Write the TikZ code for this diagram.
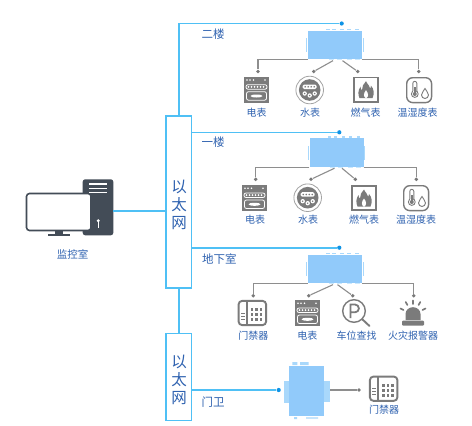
\documentclass[tikz,border=0pt]{standalone}
\usepackage{fontspec}
\setmainfont{Noto Sans CJK SC}
\definecolor{lblue}{HTML}{4FC0F5}
\definecolor{dotblue}{HTML}{0E93E6}
\definecolor{devblue}{HTML}{91CAFA}
\definecolor{tickblue}{HTML}{A9D8FB}
\definecolor{txtblue}{HTML}{2F62B0}
\definecolor{ico}{HTML}{7B7B7B}
\definecolor{conn}{HTML}{8E8E8E}
\definecolor{pc}{HTML}{434C57}
\tikzset{
 x=1pt,y=-1pt,
 link/.style={draw=lblue,line width=1.6pt},
 bus/.style={draw=lblue,line width=1.5pt,fill=white,minimum width=25.5pt,inner sep=0pt},
 devbox/.style={fill=devblue,inner sep=0pt,minimum width=54pt,minimum height=28.5pt},
 gate/.style={fill=devblue,inner sep=0pt,minimum width=34.7pt,minimum height=50pt},
 tick/.style={fill=tickblue,draw=none},
 tickfaint/.style={fill=tickblue!60,draw=none},
 jdot/.style={circle,fill=dotblue,inner sep=0pt,minimum size=4.2pt},
 gdot/.style={circle,fill=conn!85!black,inner sep=0pt,minimum size=3.8pt},
 gline/.style={draw=conn,line width=1.1pt},
 lbl/.style={text=txtblue,font=\fontsize{10}{12}\selectfont,inner sep=0pt},
 flr/.style={text=txtblue,font=\fontsize{11.5}{13}\selectfont,inner sep=0pt},
 bustxt/.style={text=txtblue,font=\fontsize{15.5}{18}\selectfont,inner sep=0pt},
}
\newcommand{\devticks}[2]{\begin{scope}[shift={(#1,#2)}]
 \foreach \a in {-7,-1,7,14,22}{\fill[tick] (\a-1.8,-16.4) rectangle (\a+1.8,-14.9);}
 \foreach \a in {-4,4,14,22}{\fill[tickfaint] (\a-2.5,14.3) rectangle (\a+2.5,15.4);}
 \fill[tick] (-28.8,-7) rectangle (-27.6,7);
 \fill[tick] (27.6,-7) rectangle (28.8,7);
\end{scope}}
\newcommand{\icMeter}[2]{\begin{scope}[shift={(#1,#2)}]
 \fill[ico] (0,0) rectangle (25,26);
 \foreach \a in {3,6,9.5,21}{\fill[white] (\a,3.2) circle (0.9);}
 \draw[white,line width=0.8pt,rounded corners=2pt] (2,8) rectangle (23,12.5);
 \foreach \a in {4.5,7.5,10.5,13.5,16.5,19.5}{\fill[white] (\a,10.2) circle (1);}
 \draw[white,line width=0.8pt,rounded corners=2pt] (2.5,15) rectangle (22.5,23.5);
 \fill[white] (12.5,19.3) ellipse (6 and 1.5);
\end{scope}}
\newcommand{\icWater}[2]{\begin{scope}[shift={(#1,#2)}]
 \draw[ico!70,line width=0.8pt] (0,0) circle (13.8);
 \fill[ico] (0,0) circle (10.8);
 \fill[white,rounded corners=1.5pt] (-7,-5.5) rectangle (7,-1);
 \foreach \a in {-4.5,-1.5,1.5,4.5}{\fill[ico] (\a,-3.2) circle (0.9);}
 \fill[white] (-5,3.5) circle (2.2) (0,5.5) circle (2.2) (5,3.5) circle (2.2);
 \fill[ico] (-5,3.5) circle (0.8) (0,5.5) circle (0.8) (5,3.5) circle (0.8);
\end{scope}}
\newcommand{\icFlame}[2]{\begin{scope}[shift={(#1,#2)}]
 \draw[ico,line width=1.7pt] (0.8,0.8) rectangle (25,25.2);
 \fill[ico] (13,4.5) .. controls (14.5,8) and (17,9) .. (17.3,12) .. controls (18,11) and (18,10) .. (18,9)
  .. controls (21,12) and (21.5,17) .. (19.5,21.5) -- (6.5,21.5) .. controls (4.8,18) and (5,13.5) .. (7.5,10)
  .. controls (7.6,12) and (8,13) .. (9,13.5) .. controls (8.8,10) and (10.5,7) .. (13,4.5) -- cycle;
 \fill[white] (13,21.8) .. controls (10,20) and (10.5,16.5) .. (13,13.5) .. controls (15.5,16.5) and (16,20) .. (13,21.8) -- cycle;
\end{scope}}
\newcommand{\icThermo}[2]{\begin{scope}[shift={(#1,#2)}]
 \draw[ico,line width=1.4pt,rounded corners=6pt] (0.7,0.7) rectangle (25.6,25.6);
 \draw[ico,line width=0.9pt] (8.8,17) circle (3.4);
 \fill[white] (7.2,13) rectangle (10.4,15);
 \draw[ico,line width=0.9pt] (6.8,14.2) -- (6.8,6.3) arc (180:360:2) -- (10.8,14.2);
 \fill[ico] (8.8,17) circle (2);
 \fill[ico] (8.1,10) rectangle (9.5,16);
 \draw[ico,line width=0.9pt] (19,11.5) .. controls (20,14) and (22.5,15.5) .. (22.5,18) arc (0:180:3.5) .. controls (15.5,15.5) and (18,14) .. (19,11.5) -- cycle;
\end{scope}}
\newcommand{\icDoor}[2]{\begin{scope}[shift={(#1,#2)}]
 \draw[ico,line width=1.9pt,rounded corners=3.5pt] (0.9,0.9) rectangle (28.4,25.1);
 \fill[ico] (8.4,1) rectangle (10,25);
 \foreach \b in {12.5,15.5,18.5}{\fill[ico] (3.2,\b) rectangle (7,\b+1.1);}
 \foreach \a in {13,17.5,22}\foreach \b in {8,13,18}{\fill[ico] (\a,\b) rectangle (\a+2.6,\b+2.8);}
\end{scope}}
\newcommand{\icPark}[2]{\begin{scope}[shift={(#1,#2)}]
 \draw[ico,line width=1.4pt] (0,0) circle (11.3);
 \draw[ico,line width=1.9pt,line cap=round] (8.2,8.2) -- (15.5,15);
 \draw[ico,line width=1.8pt] (-3.5,7) -- (-3.5,-6.5) -- (1,-6.5) arc (-90:90:3.9) -- (-3.5,1.3);
\end{scope}}
\newcommand{\icAlarm}[2]{\begin{scope}[shift={(#1,#2)}]
 \fill[ico] (-7.5,20) -- (-7.5,14) arc (180:360:7.5 and 6.8) -- (7.5,20) -- cycle;
 \fill[ico,rounded corners=1pt] (-11,20.5) rectangle (11,25.5);
 \draw[ico,line width=1.7pt,line cap=round] (0,0.5) -- (0,4);
 \draw[ico,line width=1.7pt,line cap=round] (-7.3,2) -- (-5.6,5);
 \draw[ico,line width=1.7pt,line cap=round] (7.3,2) -- (5.6,5);
 \draw[ico,line width=1.7pt,line cap=round] (-12.5,8.5) -- (-9.5,10);
 \draw[ico,line width=1.7pt,line cap=round] (12.5,8.5) -- (9.5,10);
\end{scope}}
\begin{document}
\begin{tikzpicture}
\useasboundingbox[fill=white] (0,0) rectangle (472,426);
% buses
\node[bus,minimum height=172pt] (bus1) at (178.9,202) {};
\node[bus,minimum height=87pt] (bus2) at (178.9,377.2) {};
\draw[link] (bus1) -- (bus2);
\node[bustxt] (t1a) at (179,187) {以};
\node[bustxt] (t1b) at (179,205) {太};
\node[bustxt] (t1c) at (179,223) {网};
\node[bustxt] (t2a) at (179,361.7) {以};
\node[bustxt] (t2b) at (179,380) {太};
\node[bustxt] (t2c) at (179,398) {网};
% PC
\fill[pc,rounded corners=2.5pt] (82.7,179.3) rectangle (113.3,235.3);
\foreach \b in {184,188.3,192.3}{\fill[white] (89.3,\b-0.7) rectangle (107.3,\b+0.7);}
\fill[white] (98.3,220.7) circle (1.6);
\fill[white] (97.7,221) rectangle (98.9,228.3);
\fill[pc] (55,231) rectangle (63,234);
\fill[pc] (47.7,234) rectangle (70,235.6);
\draw[pc,fill=white,line width=1.6pt,rounded corners=3pt] (26.5,193.5) rectangle (91,230.5);
\coordinate (pcport) at (113.3,210.7);
\draw[link] (pcport) -- (pcport -| bus1.west);
\node[lbl,font=\fontsize{10.5}{12}\selectfont] (pcl) at (72.7,254) {监控室};
% floor 2
\node[jdot] (j1) at (341.7,23.5) {};
\draw[link] (bus1.north) |- (j1);
\node[flr] at (213,34) {二楼};
\node[devbox] (d1) at (335,45) {};
\devticks{335}{45}
\node[gdot] (p1a) at (258,71.5) {};
\node[gdot] (p1b) at (313.7,71.5) {};
\node[gdot] (p1c) at (357.7,71.5) {};
\node[gdot] (p1d) at (418.7,71.5) {};
\draw[gline] (d1.south west) -| (p1a);
\draw[gline] ([xshift=-2pt,yshift=-1.2pt]d1.south) -- (p1b);
\draw[gline] ([xshift=7.5pt,yshift=-1.2pt]d1.south) -- (p1c);
\draw[gline] (d1.south east) -| (p1d);
\icMeter{244}{76.7}
\icWater{309.7}{90}
\icFlame{353}{76.7}
\icThermo{406}{77}
\node[lbl] at (256.7,113) {电表};
\node[lbl] at (310,113) {水表};
\node[lbl] at (365.7,113) {燃气表};
\node[lbl] at (417.7,113) {温湿度表};
% floor 1
\coordinate (b1) at (bus1.east |- 0,132.3);
\node[jdot] (j2) at (339.3,132.3) {};
\draw[link] (b1) -- (j2);
\node[flr] at (213,142.3) {一楼};
\node[devbox] (d2) at (336.5,152.6) {};
\devticks{336.5}{152.6}
\node[gdot] (p2a) at (255.7,179.3) {};
\node[gdot] (p2b) at (311,179.3) {};
\node[gdot] (p2c) at (355.3,179.3) {};
\node[gdot] (p2d) at (416.3,179.3) {};
\draw[gline] (d2.south west) -| (p2a);
\draw[gline] ([xshift=-2pt,yshift=-1.2pt]d2.south) -- (p2b);
\draw[gline] ([xshift=5.5pt,yshift=-1.2pt]d2.south) -- (p2c);
\draw[gline] (d2.south east) -| (p2d);
\icMeter{242}{185}
\icWater{307.7}{197.7}
\icFlame{351}{185}
\icThermo{403}{185}
\node[lbl] at (255,219.7) {电表};
\node[lbl] at (308,219.7) {水表};
\node[lbl] at (364,219.7) {燃气表};
\node[lbl] at (416,219.7) {温湿度表};
% basement
\coordinate (b2) at (bus1.east |- 0,247.7);
\node[jdot] (j3) at (339.3,247.7) {};
\draw[link] (b2) -- (j3);
\node[flr] at (219.3,259.3) {地下室};
\node[devbox] (d3) at (335,269) {};
\devticks{335}{269}
\node[gdot] (p3a) at (253.3,295.7) {};
\node[gdot] (p3b) at (308.7,295.7) {};
\node[gdot] (p3c) at (352.7,295.7) {};
\node[gdot] (p3d) at (413.7,295.7) {};
\draw[gline] (d3.south west) -| (p3a);
\draw[gline] ([xshift=-2pt,yshift=-1.2pt]d3.south) -- (p3b);
\draw[gline] ([xshift=2.5pt,yshift=-1.2pt]d3.south) -- (p3c);
\draw[gline] (d3.south east) -| (p3d);
\icDoor{237.7}{300}
\icMeter{295}{300}
\icPark{354}{311}
\icAlarm{413}{300}
\node[lbl] at (253.3,336) {门禁器};
\node[lbl] at (307.3,336) {电表};
\node[lbl] at (356.7,336) {车位查找};
\node[lbl] at (413,336) {火灾报警器};
% gate
\coordinate (b3) at (bus2.east |- 0,390);
\node[jdot] (j4) at (278.7,390) {};
\draw[link] (b3) -- (j4);
\node[flr] at (213,401.7) {门卫};
\node[gate] (d4) at (306.7,391) {};
\fill[tick] (292.3,362) rectangle (297.3,365) (300,362) rectangle (308.7,365);
\fill[tick] (284.3,381) rectangle (289.3,402.7);
\fill[tick] (324.3,381) rectangle (330.3,402);
\fill[tick] (294,417) rectangle (297,419) (306,417.3) rectangle (318,418.6);
\node[gdot] (p4) at (359,390) {};
\coordinate (g4) at (330.3,390);
\draw[gline] (g4) -- (p4);
\icDoor{369}{375.7}
\node[lbl] at (384,409.3) {门禁器};
\end{tikzpicture}
\end{document}
